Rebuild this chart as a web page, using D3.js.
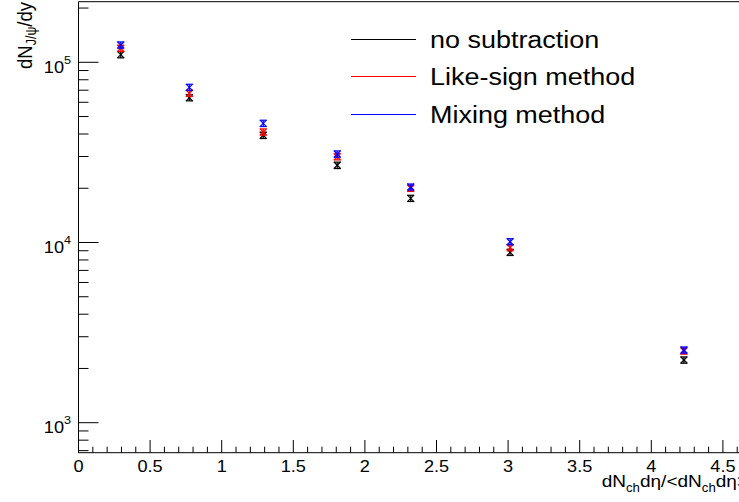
<!DOCTYPE html>
<html>
<head>
<meta charset="utf-8">
<script src="https://cdn.jsdelivr.net/npm/d3@7"></script>
<style>
  html, body { margin: 0; padding: 0; background: #fff; }
  svg { display: block; }
  text { font-family: "Liberation Sans", Arial, Helvetica, sans-serif; fill: #000; }
</style>
</head>
<body>
<svg id="chart" width="739" height="502"></svg>
<script>
// Multiplicity bins (dNch/dη / <dNch/dη>)
const multiplicity = [0.295, 0.774, 1.29, 1.807, 2.32, 3.014, 4.228];

// J/psi yields per background-subtraction method
const noSubtraction = [110200, 63600, 39350, 26820, 17590, 8820, 2228];
const noSubtractionErr = [4400, 2500, 1600, 1100, 700, 350, 90];
const likeSign = [119600, 67300, 41050, 29930, 19990, 9360, 2500];
const likeSignErr = [4800, 2700, 1650, 1200, 800, 370, 100];
const mixing = [124700, 72650, 45860, 30990, 20320, 10100, 2532];
const mixingErr = [5000, 2900, 1850, 1250, 800, 400, 100];

const seriesNames = ["no subtraction", "Like-sign method", "Mixing method"];
const seriesColors = ["#000000", "#ff0000", "#0000ff"];

const xTickLabels = ["0", "0.5", "1", "1.5", "2", "2.5", "3", "3.5", "4", "4.5"];
const yDecades = [1e3, 1e4, 1e5];
const yDecadeExponents = ["3", "4", "5"];

const svg = d3.select("#chart");
const frame = { left: 78.5, top: 1.7, bottom: 452.7 };
const xMax = 4.8;
const pxPerUnit = 143.2;

const x = d3.scaleLinear().domain([0, xMax]).range([frame.left, frame.left + xMax * pxPerUnit]);
const y = d3.scaleLog().domain([681.6, 216900]).range([frame.bottom, frame.top]);

const FS = 1.1; // horizontal stretch applied to all glyphs

// Frame
const g = svg.append("g");
g.append("line").attr("x1", x(0)).attr("x2", x(xMax)).attr("y1", frame.top).attr("y2", frame.top)
  .attr("stroke", "#000").attr("stroke-width", 1);
g.append("line").attr("x1", x(0)).attr("x2", x(xMax)).attr("y1", frame.bottom).attr("y2", frame.bottom)
  .attr("stroke", "#000").attr("stroke-width", 1);
g.append("line").attr("x1", frame.left).attr("x2", frame.left).attr("y1", frame.top).attr("y2", frame.bottom)
  .attr("stroke", "#000").attr("stroke-width", 1);

// X axis ticks (major every 0.5, minor every 0.1), drawn upward into the frame
const xMinor = d3.range(0, xMax + 1e-9, 0.1);
g.selectAll(".xtick").data(xMinor).join("line")
  .attr("x1", d => x(d)).attr("x2", d => x(d))
  .attr("y1", frame.bottom)
  .attr("y2", d => frame.bottom - (Math.abs(d * 2 - Math.round(d * 2)) < 1e-6 ? 12.7 : 6))
  .attr("stroke", "#000").attr("stroke-width", 1);

// X tick labels
xTickLabels.forEach(lbl => {
  const v = +lbl;
  svg.append("text")
    .attr("transform", `translate(${x(v)},472) scale(${FS},1)`)
    .attr("text-anchor", "middle")
    .attr("font-size", 16.5)
    .text(lbl);
});

// Y axis ticks: decades long, 2..9 sub-decades short
const [yLo, yHi] = y.domain();
const yTicks = [];
for (let e = 2; e <= 5; e++) {
  for (let m = 1; m <= 9; m++) {
    const v = m * Math.pow(10, e);
    if (v >= yLo && v <= yHi) yTicks.push({ v, major: m === 1 });
  }
}
g.selectAll(".ytick").data(yTicks).join("line")
  .attr("x1", frame.left).attr("x2", d => frame.left + (d.major ? 20 : 10))
  .attr("y1", d => y(d.v)).attr("y2", d => y(d.v))
  .attr("stroke", "#000").attr("stroke-width", 1);

// Y tick labels 10^n
yDecades.forEach((v, i) => {
  const t = svg.append("text")
    .attr("transform", `translate(71,${y(v) + 10.5}) scale(${FS},1)`)
    .attr("text-anchor", "end")
    .attr("font-size", 16.5);
  t.append("tspan").text("10");
  t.append("tspan").attr("font-size", 11.5).attr("dy", -9).text(yDecadeExponents[i]);
});

// Y axis title: dN_{J/ψ}/dy (rotated, right-aligned at the top)
const yt = svg.append("text")
  .attr("transform", `translate(32,2) scale(${FS},1) rotate(-90)`)
  .attr("text-anchor", "end")
  .attr("font-size", 18.5);
yt.append("tspan").text("dN");
yt.append("tspan").attr("font-size", 12.5).attr("dy", 4).text("J/ψ");
yt.append("tspan").attr("dy", -4).text("/dy");

// X axis title: dN_{ch}dη/<dN_{ch}dη>
const xt = svg.append("text")
  .attr("transform", `translate(601.7,487) scale(${FS},1)`)
  .attr("font-size", 17.3);
xt.append("tspan").text("dN");
xt.append("tspan").attr("font-size", 12).attr("dy", 5).text("ch");
xt.append("tspan").attr("dy", -5).text("dη/<dN");
xt.append("tspan").attr("font-size", 12).attr("dy", 5).text("ch");
xt.append("tspan").attr("dy", -5).text("dη>");

// Data points: x markers with vertical error bars and caps
const series = [
  { vals: noSubtraction, errs: noSubtractionErr, color: seriesColors[0] },
  { vals: likeSign, errs: likeSignErr, color: seriesColors[1] },
  { vals: mixing, errs: mixingErr, color: seriesColors[2] }
];
const ms = 3.5, cap = 3;
series.forEach(s => {
  const sg = svg.append("g").attr("stroke", s.color).attr("stroke-width", 1.2).attr("fill", "none");
  multiplicity.forEach((xv, i) => {
    const cx = x(xv), cy = y(s.vals[i]);
    const yTop = y(s.vals[i] + s.errs[i]), yBot = y(s.vals[i] - s.errs[i]);
    sg.append("line").attr("x1", cx).attr("x2", cx).attr("y1", yTop).attr("y2", yBot);
    sg.append("line").attr("x1", cx - cap).attr("x2", cx + cap).attr("y1", yTop).attr("y2", yTop);
    sg.append("line").attr("x1", cx - cap).attr("x2", cx + cap).attr("y1", yBot).attr("y2", yBot);
    sg.append("line").attr("x1", cx - ms).attr("x2", cx + ms).attr("y1", cy - ms).attr("y2", cy + ms);
    sg.append("line").attr("x1", cx - ms).attr("x2", cx + ms).attr("y1", cy + ms).attr("y2", cy - ms);
  });
});

// Legend
const legendY = [39, 76.7, 114.3];
seriesNames.forEach((name, i) => {
  svg.append("line")
    .attr("x1", 351).attr("x2", 415.7)
    .attr("y1", legendY[i]).attr("y2", legendY[i])
    .attr("stroke", seriesColors[i]).attr("stroke-width", 1)
    .attr("shape-rendering", "crispEdges");
  svg.append("text")
    .attr("transform", `translate(430,${legendY[i] + 8.5}) scale(${FS},1)`)
    .attr("font-size", 24.5)
    .text(name);
});
</script>
</body>
</html>
